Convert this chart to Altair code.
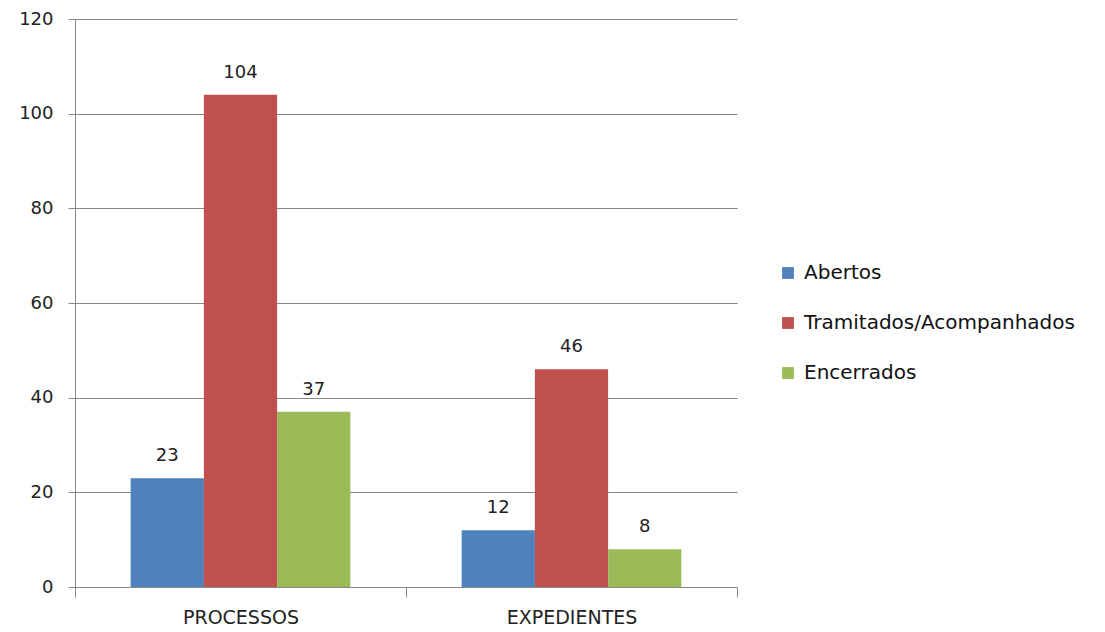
import altair as alt
import pandas as pd

categories = ["PROCESSOS", "EXPEDIENTES"]
series = ["Abertos", "Tramitados/Acompanhados", "Encerrados"]
abertos = [23, 12]
tramitados = [104, 46]
encerrados = [37, 8]
colors = ["#4F81BD", "#C0504D", "#9BBB59"]

rows = []
for i, c in enumerate(categories):
    for s, vals in zip(series, [abertos, tramitados, encerrados]):
        rows.append({"cat": c, "serie": s, "valor": vals[i]})
df = pd.DataFrame(rows)

x = alt.X("cat:N", sort=categories, title=None,
          scale=alt.Scale(paddingInner=0, paddingOuter=0),
          axis=alt.Axis(labelAngle=0, tickBand="extent", grid=False,
                        domainColor="#888888", tickColor="#888888", tickSize=10,
                        labelPadding=11, labelFont="DejaVu Sans", labelFontSize=19,
                        labelColor="#222222"))
xo = alt.XOffset("serie:N", sort=series, scale=alt.Scale(paddingInner=0, paddingOuter=0.76))
y = alt.Y("valor:Q", title=None,
          scale=alt.Scale(domain=[0, 120], nice=False),
          axis=alt.Axis(values=[0, 20, 40, 60, 80, 100, 120], grid=True,
                        gridColor="#888888", domainColor="#888888", tickColor="#888888",
                        tickSize=7, labelPadding=15, labelFont="DejaVu Sans",
                        labelFontSize=18, labelColor="#222222"))

bars = alt.Chart(df).mark_bar().encode(
    x=x, xOffset=xo, y=y,
    color=alt.Color("serie:N", sort=series,
                    scale=alt.Scale(domain=series, range=colors),
                    legend=alt.Legend(title=None, orient="none", legendX=703, legendY=244,
                                      symbolType="square", symbolSize=140,
                                      symbolStrokeWidth=0, labelFont="DejaVu Sans",
                                      labelFontSize=20, labelColor="#111111",
                                      labelLimit=400, rowPadding=30, labelOffset=6)),
)

labels = alt.Chart(df).mark_text(baseline="bottom", dy=-13, font="DejaVu Sans",
                                 fontSize=18, color="#222222").encode(
    x=alt.X("cat:N", sort=categories), xOffset=alt.XOffset("serie:N", sort=series),
    y="valor:Q", text="valor:Q",
)

chart = alt.layer(bars, labels).properties(
    width=662, height=568,
    autosize=alt.AutoSizeParams(type="none"),
    padding={"left": 67, "top": 11, "right": 360, "bottom": 45},
).configure_view(stroke=None).configure_axis(domainWidth=1, gridWidth=1)

chart.save("out.html", embed_options={"renderer": "svg", "actions": False})
